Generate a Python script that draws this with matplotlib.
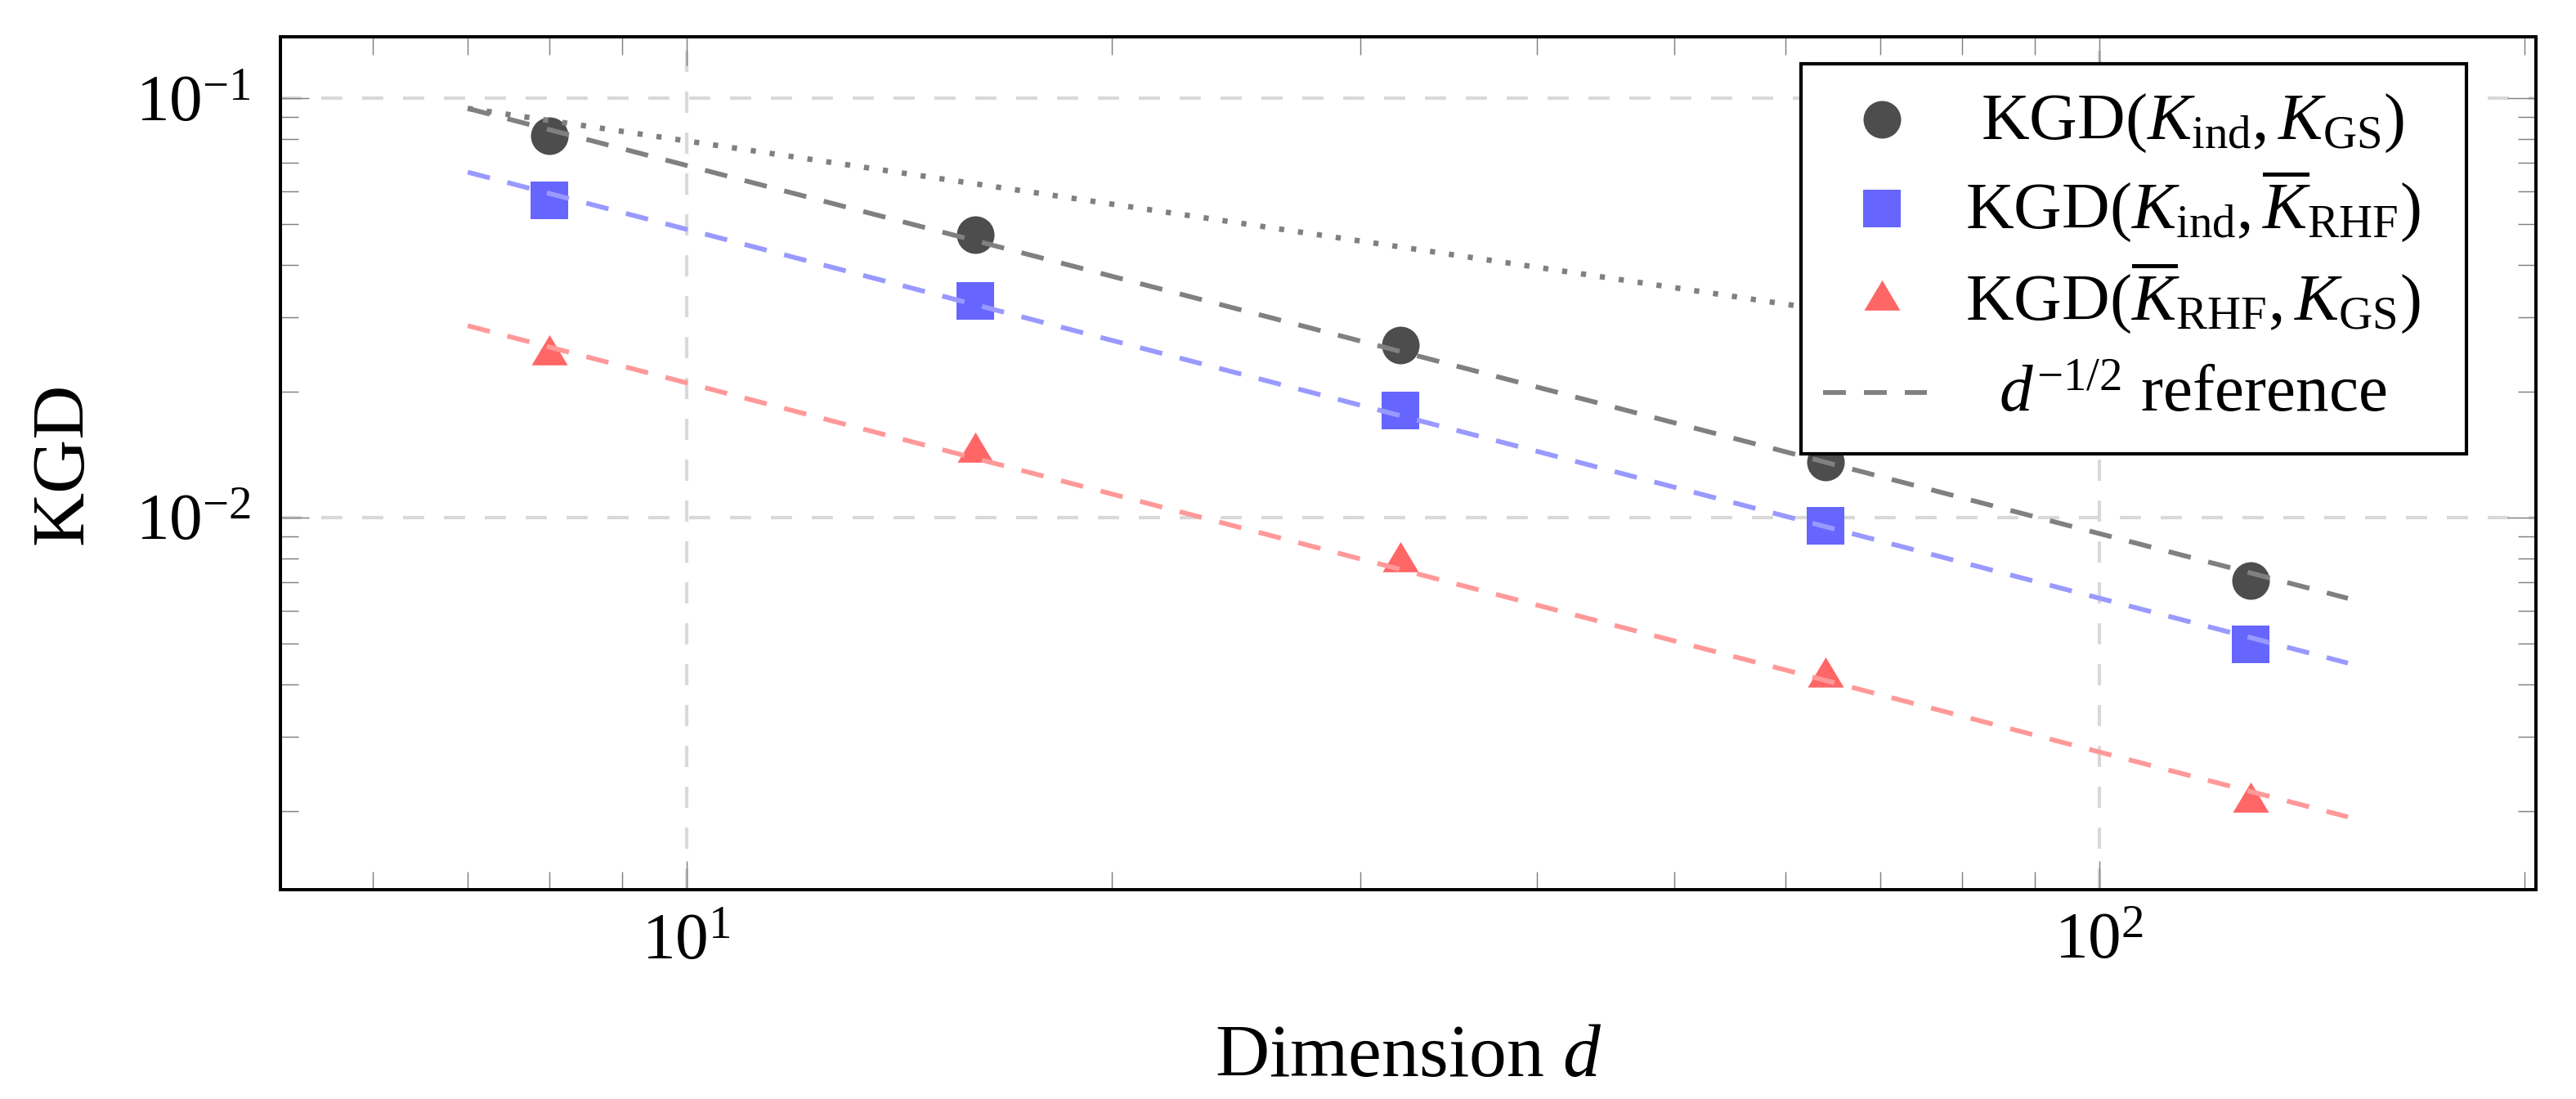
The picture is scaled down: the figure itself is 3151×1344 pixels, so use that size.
import numpy as np
import matplotlib
matplotlib.use("Agg")
import matplotlib.pyplot as plt
from matplotlib.path import Path
from matplotlib.lines import Line2D
from matplotlib.text import Text
from matplotlib.offsetbox import DrawingArea, AnchoredOffsetbox
from matplotlib.ticker import LogLocator, NullFormatter

plt.rcParams.update({
    "font.family": "serif",
    "font.serif": ["Liberation Serif", "DejaVu Serif"],
    "mathtext.fontset": "custom",
    "mathtext.rm": "Liberation Serif",
    "mathtext.it": "Liberation Serif:italic",
    "mathtext.bf": "Liberation Serif:bold",
    "lines.scale_dashes": False,
})

# ---------------- data ----------------
dims = [8, 16, 32, 64, 128]
kgd_ind_gs = [0.0813, 0.0472, 0.0258, 0.01358, 0.00707]
kgd_ind_rhf = [0.0571, 0.0329, 0.01799, 0.00956, 0.00499]
kgd_rhf_gs = [0.02446, 0.01435, 0.00783, 0.00417, 0.00210]

fit_d = [7, 150]
fit_ind_gs = [0.0945, 0.00642]
fit_ind_rhf = [0.0666, 0.00450]
fit_rhf_gs = [0.02867, 0.001934]
ref_half = [0.0945, 0.0204]

labels = [
    r"KGD$(K_{\mathrm{ind}}, K_{\mathrm{GS}})$",
    r"KGD$(K_{\mathrm{ind}}, \overline{K}_{\mathrm{RHF}})$",
    r"KGD$(\overline{K}_{\mathrm{RHF}}, K_{\mathrm{GS}})$",
    r"$d^{-1/2}$ reference",
]

# ---------------- style ----------------
C_GS = "#4d4d4d"
C_RHF = "#6666ff"
C_RG = "#ff6666"
L_GS = "#808080"
L_RHF = "#9999ff"
L_RG = "#ff9999"
DASH = (0, (6.7, 5.3))
DOT = (0, (1.5, 4.1))
LW = 1.4

tri = Path([(0, 24), (-21.5, -12), (21.5, -12), (0, 24)],
           [Path.MOVETO, Path.LINETO, Path.LINETO, Path.CLOSEPOLY])

W, H, DPI = 3151, 1344, 300
fig = plt.figure(figsize=(W / DPI, H / DPI), dpi=DPI)
ax = fig.add_axes([343 / W, 1 - 1088 / H, (3102 - 343) / W, (1088 - 45) / H])
ax.set_xscale("log")
ax.set_yscale("log")
ax.set_xlim(5.158, 203.8)
ax.set_ylim(0.0012973, 0.14001)

ax.set_axisbelow(True)
ax.grid(True, which="major", color="#d9d9d9", linestyle=(0, (6.2, 5.8)), linewidth=1.0)
ax.grid(False, which="minor")

ms_o = 11.04
ms_s = 11.04
ms_t = 11.8
ax.plot(dims, kgd_ind_gs, linestyle="none", marker="o", markersize=ms_o,
        color=C_GS, markeredgewidth=0, zorder=2)
ax.plot(dims, kgd_ind_rhf, linestyle="none", marker="s", markersize=ms_s,
        color=C_RHF, markeredgewidth=0, zorder=2)
ax.plot(dims, kgd_rhf_gs, linestyle="none", marker=tri, markersize=ms_t,
        color=C_RG, markeredgewidth=0, zorder=2)

ax.plot(fit_d, fit_ind_gs, color=L_GS, linestyle=DASH, linewidth=LW, zorder=3,
        dash_capstyle="butt")
ax.plot(fit_d, fit_ind_rhf, color=L_RHF, linestyle=DASH, linewidth=LW, zorder=3,
        dash_capstyle="butt")
ax.plot(fit_d, fit_rhf_gs, color=L_RG, linestyle=DASH, linewidth=LW, zorder=3,
        dash_capstyle="butt")
ax.plot(fit_d, ref_half, color=L_GS, linestyle=DOT, linewidth=1.6, zorder=3,
        dash_capstyle="butt")

# ticks
for axis in (ax.xaxis, ax.yaxis):
    axis.set_major_locator(LogLocator(base=10, numticks=10))
    axis.set_minor_locator(LogLocator(base=10, subs=np.arange(2, 10), numticks=10))
    axis.set_minor_formatter(NullFormatter())
ax.tick_params(which="both", direction="in", top=True, right=True,
               color="#808080", width=0.35, labelsize=19.5)
ax.tick_params(which="major", length=8.4)
ax.tick_params(which="minor", length=5.3)
ax.tick_params(axis="x", which="major", pad=7)
ax.tick_params(axis="y", which="major", pad=8.6)
for sp in ax.spines.values():
    sp.set_linewidth(0.96)
    sp.set_color("black")
    sp.set_zorder(6)

ax.set_xlabel(r"Dimension $d$", fontsize=22)
ax.xaxis.label.set_va("baseline")
ax.xaxis.set_label_coords(0.5, -(1316 - 1088) / (1088 - 45))
ax.set_ylabel("KGD", fontsize=22)
ax.yaxis.label.set_va("baseline")
ax.yaxis.label.set_rotation_mode("anchor")
ax.yaxis.set_label_coords((100 - 343) / (3102 - 343), 0.5)

# legend (custom layout, centred labels)
px = 72 / DPI
LWD, LHT = 814 * px, 477 * px
da = DrawingArea(LWD, LHT, 0, 0, clip=False)
rows = [LHT - r * px for r in (68, 177, 289, 402)]
mx = 99 * px
tx = 479 * px
da.add_artist(Line2D([mx], [rows[0]], linestyle="none", marker="o", markersize=ms_o,
                     color=C_GS, markeredgewidth=0))
da.add_artist(Line2D([mx], [rows[1]], linestyle="none", marker="s", markersize=ms_s,
                     color=C_RHF, markeredgewidth=0))
da.add_artist(Line2D([mx], [rows[2]], linestyle="none", marker=tri, markersize=ms_t,
                     color=C_RG, markeredgewidth=0))
da.add_artist(Line2D([27 * px, 154 * px], [rows[3], rows[3]], color=L_GS,
                     linestyle=DASH, linewidth=LW, dash_capstyle="butt"))
for ry, lab in zip(rows, labels):
    da.add_artist(Text(tx, ry - 23.6 * px, lab, ha="center", va="baseline",
                       fontsize=19.5, family="serif"))

anch = AnchoredOffsetbox(loc="upper left", child=da, pad=0.0, borderpad=0.0,
                         frameon=True,
                         bbox_to_anchor=((2203 - 343) / (3102 - 343), 1 - (78 - 45) / (1088 - 45)),
                         bbox_transform=ax.transAxes)
anch.patch.set_edgecolor("black")
anch.patch.set_facecolor("white")
anch.patch.set_linewidth(1.0)
anch.set_zorder(5)
ax.add_artist(anch)

fig.savefig("out.png", dpi=DPI)
